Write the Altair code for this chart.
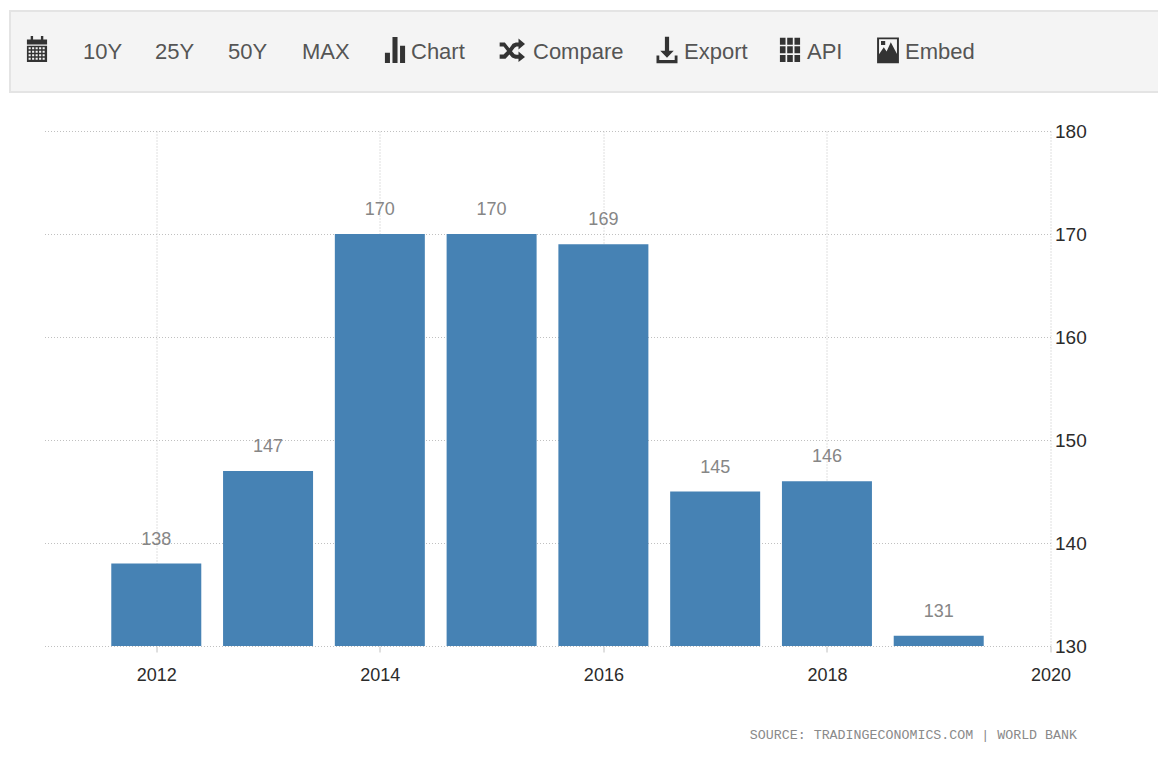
import altair as alt
import pandas as pd

years = [2012, 2013, 2014, 2015, 2016, 2017, 2018, 2019]
values = [138, 147, 170, 170, 169, 145, 146, 131]
x_ticks = [2012, 2014, 2016, 2018, 2020]
y_ticks = [130, 140, 150, 160, 170, 180]
source_text = "SOURCE: TRADINGECONOMICS.COM | WORLD BANK"

PLOT_LEFT, PLOT_TOP = 44.5, 131
W, H = 1006, 515
SANS = "Liberation Sans"
ICON = "#333333"
TXT = "#555555"

df = pd.DataFrame({"year": years, "value": values})
one = pd.DataFrame({"k": [0]})


def px(v):
    return v - PLOT_LEFT


def py(v):
    return v - PLOT_TOP


def rect(x0, y0, x1, y1, hole=False):
    if hole:
        return f"M{x0},{y0}L{x0},{y1}L{x1},{y1}L{x1},{y0}Z"
    return f"M{x0},{y0}L{x1},{y0}L{x1},{y1}L{x0},{y1}Z"


def label(text, x, y=52, size=22, color=TXT, font=SANS, align="left"):
    return (
        alt.Chart(one)
        .mark_text(font=font, fontSize=size, color=color, align=align, baseline="middle", clip=False)
        .encode(x=alt.value(px(x)), y=alt.value(py(y)), text=alt.value(text))
    )


def icon(path, x, y=50, span=28):
    return (
        alt.Chart(one)
        .mark_point(shape=path, size=span * span, filled=True, fill=ICON, opacity=1, strokeWidth=0)
        .encode(x=alt.value(px(x)), y=alt.value(py(y)))
    )


# Icons (unit square paths)
cal = rect(-0.72, -0.68, 0.72, -0.32) + rect(-0.45, -0.92, -0.28, -0.6) + rect(0.28, -0.92, 0.45, -0.6)
cal += rect(-0.72, -0.24, 0.72, 0.92)
for r in range(4):
    for c in range(5):
        x0 = -0.6 + c * 0.25
        y0 = -0.12 + r * 0.25
        cal += rect(round(x0, 2), round(y0, 2), round(x0 + 0.15, 2), round(y0 + 0.13, 2), hole=True)

bars_icon = rect(-0.72, 0.2, -0.36, 0.92) + rect(-0.18, -0.92, 0.18, 0.92) + rect(0.36, -0.3, 0.72, 0.92)

shuffle = (
    "M-0.95,-0.5L-0.55,-0.5L-0.2,-0.05L0.05,-0.4L0.3,-0.5L0.5,-0.5L0.5,-0.8L1,-0.38L0.5,0.04L0.5,-0.2L0.35,-0.2"
    "L0.2,-0.1L0,0.18L0.2,0.4L0.35,0.45L0.5,0.45L0.5,0.2L1,0.62L0.5,1L0.5,0.75L0.25,0.75L0,0.65L-0.2,0.42"
    "L-0.5,0.75L-0.95,0.75L-0.95,0.42L-0.65,0.42L-0.38,0.15L-0.65,-0.2L-0.95,-0.2Z"
)

export_icon = (
    "M-0.15,-0.95L0.15,-0.95L0.15,0.05L0.48,0.05L0,0.55L-0.48,0.05L-0.15,0.05Z"
    + rect(-0.75, 0.4, -0.55, 0.95) + rect(0.55, 0.4, 0.75, 0.95) + rect(-0.75, 0.72, 0.75, 0.95)
)

api = ""
for r in range(3):
    for c in range(3):
        x0 = -0.72 + c * 0.52
        y0 = -0.88 + r * 0.62
        api += rect(round(x0, 2), round(y0, 2), round(x0 + 0.4, 2), round(y0 + 0.5, 2))

embed = rect(-0.78, -0.9, 0.78, 0.95)
embed += rect(-0.64, -0.76, 0.64, 0.3, hole=True)
embed += "M-0.7,0.4L-0.3,-0.2L-0.1,0.1L0.2,-0.55L0.7,0.4Z"
embed += rect(-0.5, -0.65, -0.2, -0.35)

# Chart
bars = (
    alt.Chart(df)
    .mark_bar(size=90, color="#4682b4")
    .encode(
        x=alt.X(
            "year:Q",
            title=None,
            scale=alt.Scale(domain=[2011, 2020], nice=False, zero=False, padding=0),
            axis=alt.Axis(
                values=x_ticks,
                format="d",
                grid=True,
                gridColor="#c0c0c0",
                gridDash=[1, 2],
                domain=False,
                ticks=True,
                tickColor="#c0c0c0",
                tickSize=6,
                labelFont=SANS,
                labelFontSize=18,
                labelColor="#2b2b2b",
                labelPadding=14,
                labelFlush=False,
            ),
        ),
        y=alt.Y(
            "value:Q",
            title=None,
            scale=alt.Scale(domain=[130, 180], nice=False, zero=False, padding=0),
            axis=alt.Axis(
                orient="right",
                values=y_ticks,
                grid=True,
                gridColor="#c0c0c0",
                gridDash=[1, 2],
                domain=False,
                ticks=False,
                labelFont=SANS,
                labelFontSize=19,
                labelColor="#2b2b2b",
                labelPadding=4,
                labelFlush=False,
            ),
        ),
        y2=alt.Y2(datum=130),
    )
)

value_labels = (
    alt.Chart(df)
    .mark_text(font=SANS, fontSize=18, color="#868686", dy=-24, baseline="middle")
    .encode(x="year:Q", y="value:Q", text=alt.Text("value:Q", format="d"))
)

toolbar = (
    alt.Chart(one)
    .mark_rect(fill="#f4f4f4", stroke="#e4e4e4", strokeWidth=2, clip=False)
    .encode(
        x=alt.value(px(10)),
        x2=alt.value(px(1180)),
        y=alt.value(py(11)),
        y2=alt.value(py(92)),
    )
)

layers = [
    bars,
    value_labels,
    toolbar,
    icon(cal, 37, y=49),
    label("10Y", 83),
    label("25Y", 155),
    label("50Y", 228),
    label("MAX", 302),
    icon(bars_icon, 395),
    label("Chart", 411),
    icon(shuffle, 512, y=49, span=26),
    label("Compare", 533),
    icon(export_icon, 667),
    label("Export", 684),
    icon(api, 790),
    label("API", 807),
    icon(embed, 888),
    label("Embed", 905),
    label(source_text, 1077, y=735, size=13.3, color="#8a8a8a", font="Liberation Mono", align="right"),
]

chart = (
    alt.layer(*layers)
    .properties(
        width=W,
        height=H,
        autosize=alt.AutoSizeParams(type="none"),
        padding={"left": PLOT_LEFT - 8, "top": PLOT_TOP - 8, "right": 1150 - (PLOT_LEFT - 8) - W, "bottom": 100},
        background="#ffffff",
    )
    .configure_view(stroke=None)
)

chart.save("out.html", embed_options={"renderer": "svg", "actions": False})
